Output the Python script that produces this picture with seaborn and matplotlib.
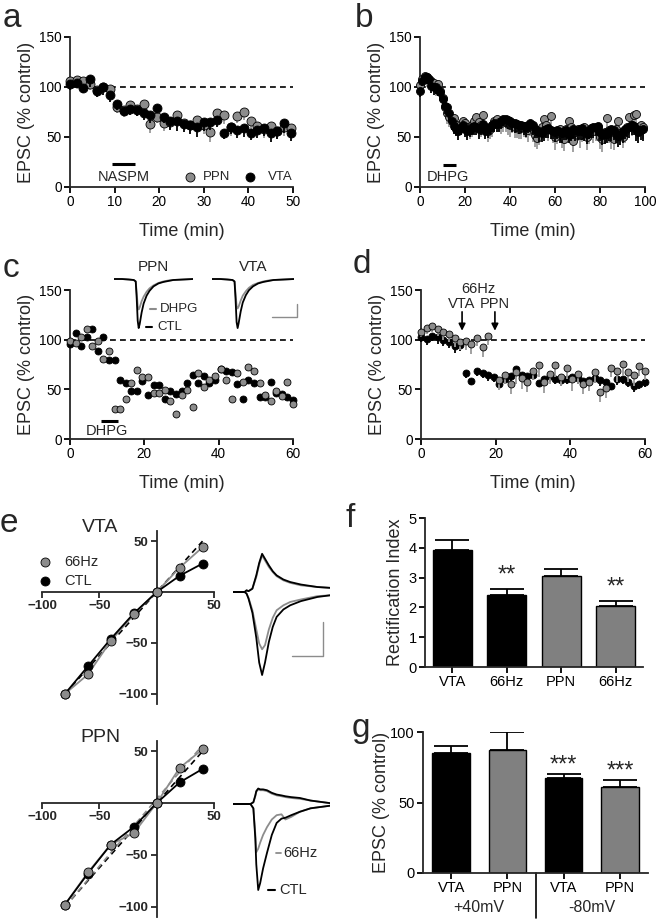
import numpy as np
import matplotlib
matplotlib.use("Agg")
import matplotlib.pyplot as plt
import matplotlib.transforms as mtransforms
import seaborn as sns

sns.set_style("ticks")
plt.rcParams['font.family'] = ['Liberation Sans', 'DejaVu Sans']

# ---------------- data ----------------
# panel a (t every 1.5 min)
a_time = [0, 1.5, 3, 4.5, 6, 7.5, 9, 10.5, 12, 13.5, 15, 16.5, 18, 19.5, 21, 22.5, 24, 25.5,
          27, 28.5, 30, 31.5, 33, 34.5, 36, 37.5, 39, 40.5, 42, 43.5, 45, 46.5, 48, 49.5]
a_ppn = [106, 107, 106, 103, 97, 100, 98, 80, 77, 82, 78, 83, 63, 70, 64, 65, 72, 64,
         62, 67, 62, 55, 74, 72, 60, 71, 75, 66, 61, 58, 61, 56, 60, 59]
a_ppn_err = [5, 6, 5, 6, 6, 5, 5, 6, 7, 6, 7, 8, 9, 6, 8, 7, 8, 7,
             8, 8, 9, 10, 8, 9, 9, 7, 8, 9, 8, 9, 9, 8, 9, 8]
a_vta = [103, 104, 99, 108, 96, 100, 92, 83, 76, 78, 77, 74, 72, 79, 70, 66, 66, 63,
         62, 60, 65, 65, 67, 54, 60, 57, 59, 54, 57, 59, 54, 56, 64, 54]
a_vta_err = [6, 5, 5, 8, 6, 8, 7, 6, 5, 6, 6, 7, 8, 5, 6, 9, 10, 8,
             9, 10, 9, 8, 7, 6, 7, 8, 9, 7, 8, 8, 9, 8, 10, 8]

# panel b (t every 1 min)
b_time = list(range(100))
b_vta = [96, 106, 110, 110, 108, 101, 100, 100, 97, 95,
         88, 81, 80, 74, 66, 61, 58, 56, 60, 62,
         58, 56, 57, 60, 61, 60, 58, 60, 63, 56,
         58, 60, 62, 64, 63, 64, 66, 68, 68, 67,
         66, 64, 64, 63, 62, 62, 61, 60, 62, 64,
         62, 58, 57, 55, 54, 57, 58, 59, 57, 56,
         55, 57, 55, 54, 56, 57, 52, 55, 58, 57,
         56, 58, 59, 55, 53, 57, 59, 60, 60, 61,
         55, 52, 54, 53, 56, 58, 57, 53, 51, 52,
         56, 58, 59, 60, 62, 61, 58, 55, 57, 58]
b_vta_err = [6, 5, 6, 7, 6, 7, 8, 7, 6, 8,
             9, 8, 7, 8, 9, 8, 7, 9, 8, 7,
             8, 9, 7, 8, 9, 8, 10, 8, 9, 8,
             9, 8, 7, 9, 8, 9, 8, 7, 8, 9,
             8, 9, 10, 8, 9, 8, 9, 10, 8, 9,
             10, 9, 8, 10, 9, 11, 9, 10, 9, 8,
             10, 9, 11, 10, 9, 10, 8, 9, 10, 11,
             9, 10, 12, 9, 10, 9, 10, 11, 9, 10,
             9, 10, 11, 9, 10, 12, 10, 9, 11, 10,
             12, 10, 9, 11, 10, 9, 12, 11, 10, 12]
b_ppn = [102, 108, 111, 110, 107, 106, 104, 100, 103, 96,
         89, 80, 74, 70, 68, 69, 62, 60, 63, 66,
         64, 60, 58, 62, 66, 70, 65, 62, 72, 60,
         56, 58, 62, 66, 68, 65, 64, 67, 65, 63,
         62, 64, 60, 62, 58, 60, 61, 59, 57, 62,
         58, 52, 49, 55, 60, 68, 62, 58, 71, 56,
         50, 54, 58, 52, 48, 58, 66, 60, 46, 55,
         58, 52, 56, 60, 50, 55, 58, 56, 59, 60,
         50, 48, 55, 69, 57, 50, 48, 58, 66, 54,
         50, 56, 60, 70, 62, 72, 73, 60, 62, 60]
b_ppn_err = [8, 9, 8, 10, 9, 8, 10, 9, 8, 10,
             10, 9, 11, 10, 9, 11, 10, 9, 11, 10,
             9, 11, 10, 12, 9, 11, 10, 12, 11, 10,
             11, 10, 12, 11, 10, 9, 11, 12, 10, 11,
             12, 10, 11, 13, 10, 12, 11, 10, 12, 11,
             13, 12, 11, 13, 12, 10, 13, 12, 11, 12,
             13, 11, 12, 13, 12, 11, 13, 12, 11, 12,
             12, 13, 11, 12, 13, 12, 11, 12, 13, 11,
             12, 13, 12, 11, 13, 12, 11, 13, 12, 12,
             11, 12, 13, 12, 11, 12, 13, 12, 11, 12]

# panel c (single cells, t every 1.5 min)
c_time = [0, 1.5, 3, 4.5, 6, 7.5, 9, 10.5, 12, 13.5, 15, 16.5, 18, 19.5, 21, 22.5, 24, 25.5,
          27, 28.5, 30, 31.5, 33, 34.5, 36, 37.5, 39, 40.5, 42, 43.5, 45, 46.5, 48, 49.5,
          51, 52.5, 54, 55.5, 57, 58.5, 60]
c_vta = [96, 107, 94, 103, 111, 89, 103, 80, 80, 59, 56, 48, 48, 58, 44, 54, 54, 40,
         48, 45, 48, 56, 64, 56, 63, 56, 59, 70, 68, 67, 55, 40, 59, 56,
         42, 42, 57, 46, 45, 42, 39]
c_ppn = [99, 97, 103, 111, 94, 99, 81, 89, 30, 30, 40, 56, 69, 62, 62, 46, 46, 49,
         38, 25, 44, 49, 32, 66, 52, 59, 63, 70, 59, 40, 66, 57, 72, 68,
         56, 44, 38, 48, 43, 57, 35]

# panel d
d_vta_pre_t = [0, 1.5, 3, 4.5, 6, 7.5, 9, 10.5]
d_vta_pre = [103, 101, 104, 103, 100, 98, 94, 95]
d_vta_pre_err = [5, 6, 5, 7, 6, 6, 7, 6]
d_vta_post_t = [12, 13.5, 15, 16.5, 18, 19.5, 21, 22.5, 24, 25.5, 27, 28.5, 30, 31.5, 33,
                34.5, 36, 37.5, 39, 40.5, 42, 43.5, 45, 46.5, 48, 49.5, 51, 52.5, 54, 55.5,
                57, 58.5, 60]
d_vta_post = [66, 58, 68, 66, 64, 62, 55, 60, 63, 70, 64, 63, 64, 56, 60, 63, 60, 59, 60,
              62, 61, 58, 59, 61, 59, 57, 53, 60, 60, 57, 53, 55, 57]
d_vta_post_err = [5, 4, 5, 5, 6, 5, 4, 5, 5, 6, 5, 6, 5, 4, 5, 6, 5, 6, 5, 5, 6, 5, 6, 5,
                  6, 5, 4, 6, 5, 5, 6, 5, 5]
d_ppn_pre_t = [0, 1.5, 3, 4.5, 6, 7.5, 9, 10.5, 12, 13.5, 15, 16.5, 18]
d_ppn_pre = [108, 112, 114, 111, 108, 106, 102, 98, 99, 96, 102, 93, 104]
d_ppn_pre_err = [5, 6, 6, 7, 8, 8, 9, 8, 9, 10, 8, 10, 9]
d_ppn_post_t = [21, 22.5, 24, 25.5, 27, 28.5, 30, 31.5, 33, 34.5, 36, 37.5, 39, 40.5, 42,
                43.5, 45, 46.5, 48, 49.5, 51, 52.5, 54, 55.5, 57, 58.5, 60]
d_ppn_post = [59, 64, 55, 67, 61, 57, 68, 74, 57, 65, 74, 62, 71, 60, 65, 55, 57, 67, 47,
              51, 71, 68, 75, 67, 64, 73, 68]
d_ppn_post_err = [10, 9, 10, 12, 11, 10, 9, 12, 11, 10, 12, 9, 11, 12, 10, 10, 9, 11, 10,
                  10, 9, 11, 12, 10, 11, 10, 9]

# panel e (I-V)
iv_v = [-80, -60, -40, -20, 0, 20, 40]
vta_66hz = [-100, -81, -48, -22, 0, 24, 44]
vta_ctl = [-100, -73, -46, -21, 0, 16, 28]
ppn_66hz = [-98, -67, -40, -29, 0, 34, 52]
ppn_ctl = [-98, -68, -40, -23, 0, 20, 33]
fit_v = [-80, 40]
fit_i = [-100, 50]
ppn_fit66_i = [-100, 56]

# example traces (panel c insets)
c_tr_t = [0, 8, 15, 20, 22, 23, 24, 25, 26, 28, 30, 33, 36, 40, 45, 50, 55, 60, 70, 80]
c_ppn_ctl = [0, 0, -1, -2, -5, -40, -85, -100, -92, -68, -50, -34, -24, -15, -9, -6, -4, -2, -1, 0]
c_ppn_dhpg = [0, 0, -1, -2, -5, -28, -55, -62, -58, -45, -36, -26, -19, -13, -8, -5, -3, -2, -1, 0]
c_vta_ctl = [0, 0, -1, -2, -5, -42, -88, -100, -90, -66, -48, -33, -23, -15, -9, -6, -4, -2, -1, 0]
c_vta_dhpg = [0, 0, -1, -2, -5, -30, -55, -60, -56, -44, -34, -25, -18, -12, -8, -5, -3, -2, -1, 0]

# example traces (panel e insets)
e_vta_t = [0, 12, 14, 16, 20, 24, 27, 30, 33, 37, 41, 45, 52, 59, 70, 87, 100]
e_vta_ctl_pos = [0, 0, 2, 1, 4, 20, 35, 46, 40, 32, 25, 20, 15, 12, 9, 6, 5]
e_vta_ctl_neg = [0, 0, -2, -8, -25, -55, -85, -100, -85, -60, -42, -30, -21, -16, -11, -6, -4]
e_vta_66_pos = [0, 0, 2, 1, 4, 18, 33, 44, 38, 30, 24, 19, 14, 11, 8, 6, 5]
e_vta_66_neg = [0, 0, -2, -7, -22, -45, -62, -69, -64, -45, -31, -22, -16, -12, -9, -5, -4]
e_ppn_t = [0, 18, 21, 23, 24, 26, 28, 31, 35, 40, 45, 50, 54, 60, 69, 80, 100]
e_ppn_ctl_pos = [0, 0, 2, 10, 15, 18, 17, 17, 16, 13, 11, 10, 9, 8, 7, 4, 1]
e_ppn_ctl_neg = [0, 0, -5, -40, -70, -100, -92, -75, -57, -36, -22, -17, -16, -13, -9, -5, -2]
e_ppn_66_pos = [0, 0, 2, 9, 14, 17, 16, 16, 15, 12, 10, 9, 8, 7, 6, 4, 1]
e_ppn_66_neg = [0, 0, -5, -35, -56, -52, -45, -36, -27, -18, -13, -12, -18, -15, -9, -5, -2]

# panel f
f_labels = ['VTA', '66Hz', 'PPN', '66Hz']
f_vals = [3.92, 2.42, 3.06, 2.04]
f_err = [0.35, 0.19, 0.24, 0.18]
f_sig = ['', '**', '', '**']

# panel g
g_labels = ['VTA', 'PPN', 'VTA', 'PPN']
g_vals = [85, 87.5, 67.4, 60.8]
g_err = [5.2, 12.3, 3.0, 4.9]
g_sig = ['', '', '***', '***']
g_groups = ['+40mV', '-80mV']

# ---------------- style ----------------
GRAY = '#8c8c8c'
GRAY_ERR = '#9a9a9a'
BAR_GRAY = '#808080'
W, H = 661, 922
fig = plt.figure(figsize=(W / 100, H / 100), dpi=100)


def add_ax(x0, y0, x1, y1):
    return fig.add_axes([x0 / W, 1 - y1 / H, (x1 - x0) / W, (y1 - y0) / H])


def style_ax(ax, labelsize=9.8):
    sns.despine(ax=ax)
    for s in ['left', 'bottom']:
        ax.spines[s].set_linewidth(1.3)
    ax.tick_params(direction='out', length=4, width=1.3, labelsize=labelsize, pad=2,
                   colors='black')
    ax.patch.set_alpha(0)


def series(ax, t, y, err, color, ecolor, s, z):
    if err is not None:
        lo = np.asarray(y, float) - np.asarray(err, float)
        ax.vlines(t, lo, y, color=ecolor, lw=1.3, zorder=z, clip_on=False)
    sns.scatterplot(x=t, y=y, ax=ax, color=color, s=s, edgecolor='black', linewidth=0.6,
                    zorder=z + 0.5, clip_on=False, legend=False)


def timecourse_axes(ax, xmax, xstep):
    ax.set_xlim(0, xmax)
    ax.set_ylim(0, 150)
    ax.set_xticks(np.arange(0, xmax + 1, xstep))
    ax.set_yticks([0, 50, 100, 150])
    ax.axhline(100, color='black', ls=(0, (3.5, 2.5)), lw=1.2, zorder=1)
    ax.set_ylabel('EPSC (% control)', fontsize=13, labelpad=3)
    ax.set_xlabel('Time (min)', fontsize=13, labelpad=10)
    style_ax(ax)


def letter(x, y, s):
    fig.text(x / W, 1 - y / H, s, fontsize=24, ha='left', va='baseline')


# ---------------- panel a ----------------
ax = add_ax(70, 37, 293, 187)
timecourse_axes(ax, 50, 10)
series(ax, a_time, a_ppn, a_ppn_err, GRAY, GRAY_ERR, 42, 3)
series(ax, a_time, a_vta, a_vta_err, 'black', 'black', 42, 4)
ax.plot([9.4, 14.6], [23, 23], color='black', lw=2.2, solid_capstyle='butt')
ax.text(12, 10, 'NASPM', fontsize=10.5, ha='center', va='center')
sns.scatterplot(x=[26.9], y=[10], ax=ax, color=GRAY, s=42, edgecolor='black', linewidth=0.6,
                legend=False)
ax.text(29.8, 10, 'PPN', fontsize=9.5, ha='left', va='center')
sns.scatterplot(x=[40.4], y=[10], ax=ax, color='black', s=42, edgecolor='black', linewidth=0.6,
                legend=False)
ax.text(44.4, 10, 'VTA', fontsize=9.5, ha='left', va='center')
letter(3, 27, 'a')

# ---------------- panel b ----------------
ax = add_ax(420, 37, 645, 187)
timecourse_axes(ax, 100, 20)
series(ax, b_time, b_ppn, b_ppn_err, GRAY, GRAY_ERR, 33, 3)
series(ax, b_time, b_vta, b_vta_err, 'black', 'black', 33, 4)
ax.plot([10.2, 16], [22, 22], color='black', lw=2.2, solid_capstyle='butt')
ax.text(12.4, 10, 'DHPG', fontsize=10.5, ha='center', va='center')
letter(355, 27, 'b')

# ---------------- panel c ----------------
ax = add_ax(70, 290, 293, 439)
timecourse_axes(ax, 60, 20)
series(ax, c_time, c_vta, None, 'black', 'black', 25, 3)
series(ax, c_time, c_ppn, None, GRAY, GRAY_ERR, 25, 4)
ax.plot([8.3, 12.9], [18, 18], color='black', lw=2.2, solid_capstyle='butt')
ax.text(9.9, 8, 'DHPG', fontsize=10.5, ha='center', va='center')
letter(3, 277, 'c')

# insets c
for (x0, x1, ctl, dh, name) in [(114, 193, c_ppn_ctl, c_ppn_dhpg, 'PPN'),
                                 (212, 294, c_vta_ctl, c_vta_dhpg, 'VTA')]:
    ia = add_ax(x0, 272, x1, 332)
    ia.set_xlim(0, 80)
    ia.set_ylim(-108, 14.3)
    ia.axis('off')
    sns.lineplot(x=c_tr_t, y=dh, ax=ia, color=GRAY, lw=1.3, sort=False, estimator=None)
    sns.lineplot(x=c_tr_t, y=ctl, ax=ia, color='black', lw=1.3, sort=False, estimator=None)
    fig.text((x0 + x1) / 2 / W, 1 - 267 / H, name, fontsize=11, ha='center', va='center')
    if name == 'VTA':
        ia.plot([58.5, 83, 83], [-77.6, -77.6, -51], color=GRAY, lw=1.0, clip_on=False)
fig.add_artist(plt.Line2D([150 / W, 156 / W], [1 - 309 / H] * 2, color=GRAY, lw=1.5))
fig.text(160 / W, 1 - 309 / H, 'DHPG', fontsize=9.5, ha='left', va='center')
fig.add_artist(plt.Line2D([146 / W, 152 / W], [1 - 327 / H] * 2, color='black', lw=1.5))
fig.text(157 / W, 1 - 327 / H, 'CTL', fontsize=9.5, ha='left', va='center')

# ---------------- panel d ----------------
ax = add_ax(421, 290, 645, 439)
timecourse_axes(ax, 60, 20)
series(ax, d_vta_pre_t, d_vta_pre, d_vta_pre_err, 'black', 'black', 25, 3)
series(ax, d_vta_post_t, d_vta_post, d_vta_post_err, 'black', 'black', 25, 3)
series(ax, d_ppn_pre_t, d_ppn_pre, d_ppn_pre_err, GRAY, GRAY_ERR, 25, 4)
series(ax, d_ppn_post_t, d_ppn_post, d_ppn_post_err, GRAY, GRAY_ERR, 25, 4)
for tx, name in [(11, 'VTA'), (19.8, 'PPN')]:
    ax.annotate('', xy=(tx, 109), xytext=(tx, 128),
                arrowprops=dict(arrowstyle='-|>', color='black', lw=1.2,
                                mutation_scale=10, shrinkA=0, shrinkB=0),
                annotation_clip=False)
    ax.text(tx, 136, name, fontsize=10.5, ha='center', va='center', clip_on=False)
ax.text(15.3, 151, '66Hz', fontsize=10.5, ha='center', va='center', clip_on=False)
letter(353, 273, 'd')

# ---------------- panel e ----------------
def iv_axes(y0, y1):
    ax = add_ax(42, y0, 214, y1)
    ax.set_xlim(-100, 50)
    ax.set_ylim(-110, 60)
    for s in ['top', 'right']:
        ax.spines[s].set_visible(False)
    ax.spines['left'].set_position(('data', 0))
    ax.spines['bottom'].set_position(('data', 0))
    for s in ['left', 'bottom']:
        ax.spines[s].set_linewidth(1.3)
    ax.set_xticks([-100, -50, 50])
    ax.set_yticks([-100, -50, 50])
    ax.tick_params(direction='out', length=4, width=1.3, labelsize=9.5, pad=2)
    for lab in ax.get_xticklabels() + ax.get_yticklabels():
        lab.set_fontweight('bold')
    ax.patch.set_alpha(0)
    return ax


ax = iv_axes(531, 704)
sns.lineplot(x=fit_v, y=fit_i, ax=ax, color='black', lw=1.2, ls=(0, (3.5, 2.5)), estimator=None)
sns.lineplot(x=iv_v, y=vta_66hz, ax=ax, color=GRAY, lw=1.3, estimator=None, sort=False)
sns.lineplot(x=iv_v, y=vta_ctl, ax=ax, color='black', lw=1.3, estimator=None, sort=False)
sns.scatterplot(x=iv_v, y=vta_ctl, ax=ax, color='black', s=42, edgecolor='black',
                linewidth=0.6, zorder=5, clip_on=False, legend=False)
sns.scatterplot(x=iv_v, y=vta_66hz, ax=ax, color=GRAY, s=42, edgecolor='black',
                linewidth=0.6, zorder=6, clip_on=False, legend=False)
sns.scatterplot(x=[-97.6], y=[29.4], ax=ax, color=GRAY, s=42, edgecolor='black', linewidth=0.6,
                legend=False, clip_on=False)
ax.text(-81, 29.4, '66Hz', fontsize=10.5, va='center', ha='left')
sns.scatterplot(x=[-97.6], y=[10.8], ax=ax, color='black', s=42, edgecolor='black',
                linewidth=0.6, legend=False, clip_on=False)
ax.text(-81, 10.8, 'CTL', fontsize=10.5, va='center', ha='left')
fig.text(100 / W, 1 - 527 / H, 'VTA', fontsize=14, ha='center', va='center')
letter(0, 532, 'e')

ax = iv_axes(741, 917)
sns.lineplot(x=fit_v, y=fit_i, ax=ax, color='black', lw=1.2, ls=(0, (3.5, 2.5)), estimator=None)
sns.lineplot(x=fit_v, y=ppn_fit66_i, ax=ax, color=GRAY, lw=1.2, ls=(0, (3.5, 2.5)),
             estimator=None)
sns.lineplot(x=iv_v, y=ppn_66hz, ax=ax, color=GRAY, lw=1.3, estimator=None, sort=False)
sns.lineplot(x=iv_v, y=ppn_ctl, ax=ax, color='black', lw=1.3, estimator=None, sort=False)
sns.scatterplot(x=iv_v, y=ppn_ctl, ax=ax, color='black', s=42, edgecolor='black',
                linewidth=0.6, zorder=5, clip_on=False, legend=False)
sns.scatterplot(x=iv_v, y=ppn_66hz, ax=ax, color=GRAY, s=42, edgecolor='black',
                linewidth=0.6, zorder=6, clip_on=False, legend=False)
fig.text(100 / W, 1 - 737 / H, 'PPN', fontsize=14, ha='center', va='center')

# e insets
ia = add_ax(233, 545, 330, 680)
ia.set_xlim(0, 100)
ia.set_ylim(-106, 56.6)
ia.axis('off')
for yy, c in [(e_vta_66_pos, GRAY), (e_vta_66_neg, GRAY), (e_vta_ctl_pos, 'black'),
              (e_vta_ctl_neg, 'black')]:
    sns.lineplot(x=e_vta_t, y=yy, ax=ia, color=c, lw=1.3, sort=False, estimator=None)
ia.plot([60.8, 92.8, 92.8], [-77, -77, -36], color=GRAY, lw=1.0, clip_on=False)

ia = add_ax(233, 780, 330, 895)
ia.set_xlim(0, 100)
ia.set_ylim(-105.8, 27.9)
ia.axis('off')
for yy, c in [(e_ppn_66_pos, GRAY), (e_ppn_66_neg, GRAY), (e_ppn_ctl_pos, 'black'),
              (e_ppn_ctl_neg, 'black')]:
    sns.lineplot(x=e_ppn_t, y=yy, ax=ia, color=c, lw=1.3, sort=False, estimator=None)
fig.add_artist(plt.Line2D([276 / W, 281 / W], [1 - 853 / H] * 2, color=GRAY, lw=1.3))
fig.text(283 / W, 1 - 853 / H, '66Hz', fontsize=10.5, ha='left', va='center')
fig.add_artist(plt.Line2D([268 / W, 275 / W], [1 - 890 / H] * 2, color='black', lw=1.5))
fig.text(279 / W, 1 - 890 / H, 'CTL', fontsize=10.5, ha='left', va='center')


# ---------------- panel f ----------------
def bar_panel(ax, vals, errs, colors, labels, width):
    ids = ['b%d' % i for i in range(len(vals))]
    sns.barplot(x=ids, y=vals, hue=ids, palette=dict(zip(ids, colors)), ax=ax, width=width,
                edgecolor='black', linewidth=1.0, saturation=1, legend=False, zorder=2)
    ax.errorbar(range(len(vals)), vals, yerr=[[0] * len(vals), errs], fmt='none',
                ecolor='black', elinewidth=1.3, capsize=12, capthick=1.3, zorder=1)
    ax.set_xlim(-0.5, len(vals) - 0.5)
    ax.set_xticks(range(len(vals)))
    ax.set_xticklabels(labels)
    style_ax(ax, labelsize=10.5)


ax = add_ax(425, 518, 643, 667)
bar_panel(ax, f_vals, f_err, ['black', 'black', BAR_GRAY, BAR_GRAY], f_labels, 0.72)
ax.set_ylim(0, 5)
ax.set_yticks([0, 1, 2, 3, 4, 5])
ax.set_ylabel('Rectification Index', fontsize=13, labelpad=3)
for i, s in enumerate(f_sig):
    if s:
        ax.text(i, f_vals[i] + f_err[i] + 0.45, s, fontsize=17, ha='center', va='center')
letter(345, 527, 'f')

# ---------------- panel g ----------------
ax = add_ax(423, 732, 648, 873)
bar_panel(ax, g_vals, g_err, ['black', BAR_GRAY, 'black', BAR_GRAY], g_labels, 0.67)
ax.set_ylim(0, 100)
ax.set_yticks([0, 50, 100])
ax.set_ylabel('EPSC (% control)', fontsize=13, labelpad=0)
for i, s in enumerate(g_sig):
    if s:
        ax.text(i, g_vals[i] + g_err[i] + 6, s, fontsize=17, ha='center', va='center')
trans = mtransforms.blended_transform_factory(ax.transData, ax.transAxes)
ax.plot([1.5, 1.5], [0, -0.32], color='black', lw=1.2, transform=trans, clip_on=False)
ax.text(0.5, -0.245, g_groups[0], fontsize=11.5, ha='center', va='center', transform=trans)
ax.text(2.5, -0.245, g_groups[1], fontsize=11.5, ha='center', va='center', transform=trans)
letter(352, 737, 'g')

fig.savefig('out.png', dpi=100)
